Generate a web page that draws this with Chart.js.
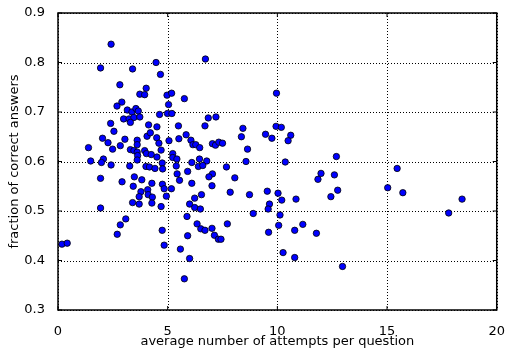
<!DOCTYPE html>
<html>
<head>
<meta charset="utf-8">
<script src="https://cdn.jsdelivr.net/npm/chart.js@4"></script>
<style>
  body { margin: 0; background: #fff; }
  #wrap { width: 511px; height: 354px; }
</style>
</head>
<body>
<div id="wrap"><canvas id="scatterChart" width="511" height="354"></canvas></div>
<script>
// average number of attempts per question (x) for each student
const attempts = [
  2.42, 1.94, 3.40, 4.47, 4.67, 6.72, 2.82, 4.02, 3.73, 3.95,
  4.97, 5.18, 5.76, 2.91, 2.69, 3.16, 3.37, 3.55, 3.66, 5.04,
  4.63, 4.99, 5.19, 2.99, 3.24, 3.46, 3.73, 3.30, 2.40, 4.13,
  4.51, 5.49, 9.96, 6.85, 7.20, 6.70, 8.43, 9.94, 10.18,
  2.55, 2.03, 2.28, 2.49, 2.84, 3.05, 1.39, 3.61, 3.61, 4.06,
  4.21, 4.50, 4.60, 4.70, 3.30, 3.46, 3.61, 3.95, 4.03, 4.25,
  4.51, 3.63, 3.61, 1.49, 2.07, 1.98, 2.42, 3.27, 4.01, 4.17,
  4.42, 4.75, 4.77, 5.06, 5.51, 5.84, 6.06, 6.15, 6.28, 6.46,
  7.04, 7.18, 7.33, 7.50, 8.36, 8.64, 9.46, 9.75, 10.61, 10.49,
  5.23, 5.23, 5.42, 6.10, 6.45, 6.78, 6.40, 6.60, 5.39, 5.91,
  7.04, 6.88, 7.68, 8.57, 8.06, 10.36, 12.69, 5.43,
  1.94, 2.92, 3.48, 3.82, 4.28, 3.43, 3.78, 4.09, 3.70, 4.11,
  4.30, 3.40, 3.70, 4.28, 4.70, 4.76, 4.84, 5.17, 4.94, 5.54,
  6.10, 6.54, 6.23, 6.00, 6.23, 6.49, 5.88, 1.94, 3.09, 2.84,
  2.70, 4.75, 4.84, 5.91, 5.58, 6.00, 5.76, 0.18, 0.42, 6.34,
  6.51, 6.70, 7.02,
  7.85, 8.73, 9.54, 9.64, 9.58, 10.03, 10.20, 10.85, 10.12, 8.90,
  7.02, 7.13, 7.31, 7.43, 7.72, 9.60, 10.06, 10.79, 11.16, 11.78,
  10.26, 10.79, 12.97, 11.85, 11.99, 12.60, 12.75, 12.44, 15.46, 15.03,
  15.72, 18.42, 17.81
];

// fraction of correct answers (y), same order as attempts
const correct = [
  0.837, 0.789, 0.787, 0.800, 0.776, 0.807, 0.755, 0.748, 0.736, 0.735,
  0.734, 0.738, 0.727, 0.720, 0.712, 0.704, 0.700, 0.707, 0.702, 0.715,
  0.695, 0.697, 0.697, 0.686, 0.686, 0.689, 0.690, 0.679, 0.677, 0.674,
  0.670, 0.672, 0.738, 0.688, 0.690, 0.672, 0.667, 0.671, 0.669,
  0.661, 0.647, 0.638, 0.625, 0.632, 0.645, 0.628, 0.643, 0.634, 0.651,
  0.658, 0.648, 0.637, 0.623, 0.624, 0.622, 0.619, 0.622, 0.616, 0.614,
  0.609, 0.612, 0.603, 0.601, 0.605, 0.598, 0.593, 0.591, 0.590, 0.589,
  0.586, 0.597, 0.585, 0.642, 0.646, 0.654, 0.643, 0.634, 0.634, 0.628,
  0.636, 0.633, 0.639, 0.637, 0.650, 0.625, 0.655, 0.647, 0.653, 0.642,
  0.616, 0.608, 0.605, 0.598, 0.605, 0.601, 0.590, 0.592, 0.591, 0.580,
  0.575, 0.569, 0.589, 0.600, 0.567, 0.599, 0.610, 0.575,
  0.566, 0.559, 0.569, 0.563, 0.556, 0.550, 0.539, 0.543, 0.529, 0.533,
  0.528, 0.517, 0.514, 0.516, 0.509, 0.554, 0.545, 0.545, 0.530, 0.562,
  0.556, 0.533, 0.526, 0.514, 0.507, 0.504, 0.489, 0.506, 0.484, 0.472,
  0.453, 0.461, 0.431, 0.450, 0.423, 0.404, 0.363, 0.433, 0.435, 0.474,
  0.464, 0.461, 0.551,
  0.538, 0.533, 0.540, 0.514, 0.504, 0.536, 0.522, 0.524, 0.492, 0.495,
  0.465, 0.451, 0.443, 0.443, 0.474, 0.457, 0.471, 0.461, 0.473, 0.455,
  0.416, 0.406, 0.388, 0.564, 0.576, 0.573, 0.542, 0.529, 0.586, 0.547,
  0.537, 0.524, 0.496
];

const xTicks = [0, 5, 10, 15, 20];
const yTicks = [0.3, 0.4, 0.5, 0.6, 0.7, 0.8, 0.9];

const points = attempts.map((x, i) => ({ x: x, y: correct[i] }));

// dotted grid slid in behind the points, then box + inward ticks (matplotlib classic look)
const frame = {
  id: 'frame',
  afterDraw(chart) {
    const { ctx, chartArea: a, scales } = chart;
    ctx.save();
    ctx.globalCompositeOperation = 'destination-over';
    ctx.strokeStyle = '#000';
    ctx.lineWidth = 1;
    ctx.setLineDash([1, 2]);
    ctx.beginPath();
    xTicks.forEach(v => {
      const px = Math.round(scales.x.getPixelForValue(v)) + 0.5;
      ctx.moveTo(px, a.top); ctx.lineTo(px, a.bottom);
    });
    yTicks.forEach(v => {
      const py = Math.round(scales.y.getPixelForValue(v)) + 0.5;
      ctx.moveTo(a.left, py); ctx.lineTo(a.right, py);
    });
    ctx.stroke();
    ctx.restore();

    ctx.save();
    ctx.strokeStyle = '#000';
    ctx.lineWidth = 1;
    ctx.beginPath();
    xTicks.forEach(v => {
      const px = scales.x.getPixelForValue(v);
      ctx.moveTo(px, a.bottom); ctx.lineTo(px, a.bottom - 4);
      ctx.moveTo(px, a.top); ctx.lineTo(px, a.top + 4);
    });
    yTicks.forEach(v => {
      const py = scales.y.getPixelForValue(v);
      ctx.moveTo(a.left, py); ctx.lineTo(a.left + 4, py);
      ctx.moveTo(a.right, py); ctx.lineTo(a.right - 4, py);
    });
    ctx.stroke();
    ctx.lineWidth = 1.5;
    ctx.strokeRect(a.left, a.top, a.right - a.left, a.bottom - a.top);
    ctx.restore();
  }
};

const font = { family: 'DejaVu Sans', size: 13 };

window.onload = function () {
  const ctx = document.getElementById('scatterChart').getContext('2d');
  new Chart(ctx, {
    type: 'scatter',
    data: {
      datasets: [{
        data: points,
        pointRadius: 3.2,
        pointBorderWidth: 0.8,
        pointBackgroundColor: '#0000ff',
        pointBorderColor: '#000000'
      }]
    },
    options: {
      responsive: false,
      animation: false,
      layout: { padding: { top: 13, right: 7, left: 0, bottom: 0 } },
      plugins: { legend: { display: false }, tooltip: { enabled: false } },
      scales: {
        x: {
          type: 'linear',
          min: 0, max: 20,
          afterFit(scale) { scale.height = 44; },
          afterBuildTicks(scale) { scale.ticks = xTicks.map(v => ({ value: v })); },
          ticks: { color: '#000', font: font, padding: 6, maxRotation: 0 },
          grid: { display: false },
          border: { display: false },
          title: {
            display: true,
            text: 'average number of attempts per question',
            color: '#000', font: font,
            padding: { top: 0, bottom: 5 }
          }
        },
        y: {
          type: 'linear',
          min: 0.3, max: 0.9,
          afterFit(scale) { scale.width = 58; },
          afterBuildTicks(scale) { scale.ticks = yTicks.map(v => ({ value: v })); },
          ticks: { color: '#000', font: font, padding: 5, callback: v => v.toFixed(1) },
          grid: { display: false },
          border: { display: false },
          title: {
            display: true,
            text: 'fraction of correct answers',
            color: '#000', font: font,
            padding: { top: 7, bottom: 0 }
          }
        }
      }
    },
    plugins: [frame]
  });
};
</script>
</body>
</html>
